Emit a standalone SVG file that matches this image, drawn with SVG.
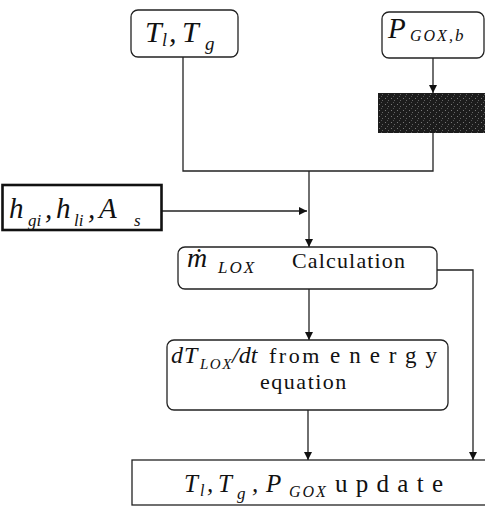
<svg xmlns="http://www.w3.org/2000/svg" width="485" height="515" viewBox="0 0 485 515">
<defs>
<style>
.box{fill:#fff;stroke:#222;stroke-width:1.3}
.thick{fill:#fff;stroke:#111;stroke-width:2.6}
.ln{fill:none;stroke:#222;stroke-width:1.3}
.t{font-family:"Liberation Serif",serif;fill:#111}
.i{font-style:italic}
</style>
<marker id="ah" viewBox="0 0 10 10" refX="10" refY="5" markerWidth="8" markerHeight="8" markerUnits="userSpaceOnUse" orient="auto">
<path d="M0,0 L10,5 L0,10 Z" fill="#111"/>
</marker>
<pattern id="noise" width="6" height="6" patternUnits="userSpaceOnUse">
<rect width="6" height="6" fill="#1c1c1c"/>
<rect x="1" y="2" width="1" height="1" fill="#777"/>
<rect x="4" y="4" width="1" height="1" fill="#666"/>
<rect x="3" y="0" width="1" height="1" fill="#555"/>
</pattern>
</defs>
<g id="connectors">
<path class="ln" d="M183,57 V171 H433 V133"/>
<path class="ln" d="M433,58 V93" marker-end="url(#ah)"/>
<path class="ln" d="M309,171 V247" marker-end="url(#ah)"/>
<path class="ln" d="M162,211 H307" marker-end="url(#ah)"/>
<path class="ln" d="M309,289 V340" marker-end="url(#ah)"/>
<path class="ln" d="M437,270 H473 V460" marker-end="url(#ah)"/>
<path class="ln" d="M308,410 V460" marker-end="url(#ah)"/>
</g>
<g id="n_tl_tg">
<rect class="box" x="131" y="10" width="107" height="47" rx="7"/>
<text class="t i" font-size="30"><tspan x="145" y="42">T</tspan><tspan x="162" y="46" font-size="18">l</tspan><tspan x="169" y="42">,</tspan><tspan x="182" y="42">T</tspan><tspan x="205" y="50" font-size="19">g</tspan></text>
</g>
<g id="n_pgox">
<rect class="box" x="382" y="12" width="102" height="46" rx="7"/>
<text class="t i" font-size="29"><tspan x="388" y="38">P</tspan><tspan x="410" y="41" font-size="16" letter-spacing="2">GOX</tspan><tspan x="449" y="41" font-size="16">,</tspan><tspan x="455" y="41" font-size="17">b</tspan></text>
</g>
<g id="n_black">
<rect x="378" y="93" width="107" height="40" fill="url(#noise)"/>
</g>
<g id="n_h">
<rect class="thick" x="2.5" y="185" width="159" height="45"/>
<text class="t i" font-size="29"><tspan x="9" y="218">h</tspan><tspan x="28" y="226" font-size="17">gi</tspan><tspan x="45" y="218">,</tspan><tspan x="56" y="218">h</tspan><tspan x="74" y="226" font-size="17">li</tspan><tspan x="88" y="218">,</tspan><tspan x="99" y="218">A</tspan><tspan x="134" y="226" font-size="17">s</tspan></text>
</g>
<g id="n_mdot">
<rect class="box" x="178" y="247" width="259" height="42" rx="7"/>
<text class="t i" font-size="28"><tspan x="187" y="267">ṁ</tspan><tspan x="218" y="273" font-size="17" letter-spacing="2">LOX</tspan></text>
<text class="t" x="292" y="268" font-size="22" textLength="113" lengthAdjust="spacing">Calculation</text>
</g>
<g id="n_dt">
<rect class="box" x="167" y="340" width="281" height="70" rx="7"/>
<text class="t" font-size="24"><tspan class="i" x="171" y="363">d</tspan><tspan class="i" x="184" y="363">T</tspan><tspan class="i" x="200" y="369" font-size="15" letter-spacing="1.5">LOX</tspan><tspan class="i" x="232" y="363">/dt</tspan></text>
<text class="t" x="269" y="363" font-size="22" letter-spacing="2.5">from</text>
<text class="t" x="330" y="363" font-size="23" textLength="107" lengthAdjust="spacing">energy</text>
<text class="t" x="304" y="389" font-size="22" letter-spacing="1.5" text-anchor="middle">equation</text>
</g>
<g id="n_update">
<rect class="box" x="132" y="460" width="360" height="45"/>
<text class="t i" font-size="25"><tspan x="184" y="492">T</tspan><tspan x="200" y="496" font-size="16">l</tspan><tspan x="207" y="492">,</tspan><tspan x="218" y="492">T</tspan><tspan x="237" y="499" font-size="17">g</tspan><tspan x="252" y="492">,</tspan><tspan x="266" y="492">P</tspan><tspan x="289" y="497" font-size="16" letter-spacing="2">GOX</tspan></text>
<text class="t" x="335" y="492" font-size="25" textLength="108" lengthAdjust="spacing">update</text>
</g>
</svg>
